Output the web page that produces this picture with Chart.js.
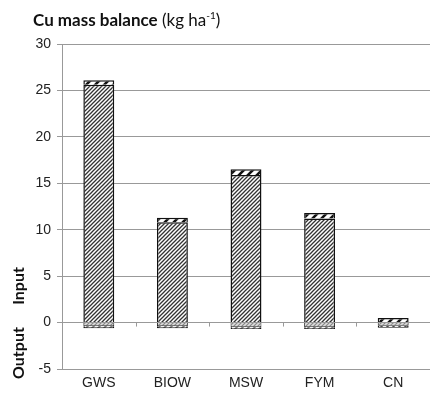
<!DOCTYPE html>
<html>
<head>
<meta charset="utf-8">
<script src="https://cdn.jsdelivr.net/npm/chart.js@4"></script>
<style>
  html, body { margin: 0; padding: 0; background: #fff; }
  #wrap { position: relative; width: 430px; height: 404px; }
  #title { position: absolute; left: 33px; top: 9px; font-family: Lato, sans-serif; font-size: 17px; color: #111; white-space: nowrap; }
  #title b { font-weight: bold; }
  #title sup { font-size: 10px; }
  .side { position: absolute; font-family: Lato, sans-serif; font-weight: bold; font-size: 16px; line-height: 18px; height: 18px; color: #111; transform: rotate(-90deg); transform-origin: center; white-space: nowrap; text-align: center; }
</style>
</head>
<body>
<div id="wrap">
  <canvas id="myChart" width="430" height="404"></canvas>
  <div id="title"><b>Cu mass balance</b> (kg ha<sup>-1</sup>)</div>
  <div class="side" style="left:-7px; top:277px; width:50px;">Input</div>
  <div class="side" style="left:-7px; top:345px; width:50px;">Output</div>
</div>
<script>
var categories = ['GWS', 'BIOW', 'MSW', 'FYM', 'CN'];
var inputMain = [25.6, 10.8, 15.9, 11.2, 0];
var inputOther = [0.5, 0.5, 0.6, 0.6, 0.5];
var outputMain = [-0.4, -0.4, -0.5, -0.5, -0.35];
var outputOther = [-0.2, -0.2, -0.2, -0.2, -0.2];
var yTicks = [-5, 0, 5, 10, 15, 20, 25, 30];

var ctx = document.getElementById('myChart').getContext('2d');

// diagonal hatch fill
function hatch(size, color, lw, bg) {
    var c = document.createElement('canvas');
    c.width = size; c.height = size;
    var x = c.getContext('2d');
    x.fillStyle = bg;
    x.fillRect(0, 0, size, size);
    x.strokeStyle = color;
    x.lineWidth = lw;
    x.beginPath();
    x.moveTo(0, size); x.lineTo(size, 0);
    x.moveTo(-1, 1); x.lineTo(1, -1);
    x.moveTo(size - 1, size + 1); x.lineTo(size + 1, size - 1);
    x.stroke();
    return ctx.createPattern(c, 'repeat');
}

var denseHatch = hatch(4, '#333', 1.3, '#fff');
var wideHatch = hatch(9, '#111', 2.6, '#fff');
var lightHatch = hatch(4, '#888', 1.2, '#ddd');
var dashHatch = hatch(6, '#222', 1.6, '#fff');

// short ticks on the zero line between categories
var zeroTicks = {
    id: 'zeroTicks',
    afterDatasetsDraw: function(chart) {
        var c = chart.ctx, xs = chart.scales.x, ys = chart.scales.y;
        var y0 = ys.getPixelForValue(0);
        c.save();
        c.strokeStyle = '#999';
        c.lineWidth = 1;
        c.beginPath();
        for (var i = 0; i < categories.length - 1; i++) {
            var px = Math.round(xs.getPixelForValue(i + 0.5)) + 0.5;
            c.moveTo(px, y0);
            c.lineTo(px, y0 + 4);
        }
        c.stroke();
        c.restore();
    }
};

var chart = new Chart(ctx, {
    type: 'bar',
    data: {
        labels: categories,
        datasets: [
            { label: 'Input main', data: inputMain, backgroundColor: denseHatch, borderColor: '#111', borderWidth: 1.5 },
            { label: 'Input other', data: inputOther, backgroundColor: wideHatch, borderColor: '#111', borderWidth: 1.5 },
            { label: 'Output main', data: outputMain, backgroundColor: lightHatch, borderColor: '#222', borderWidth: 1 },
            { label: 'Output other', data: outputOther, backgroundColor: dashHatch, borderColor: '#111', borderWidth: 1.5 }
        ]
    },
    options: {
        responsive: false,
        animation: false,
        layout: { padding: { top: 44, right: 0, left: 0, bottom: 0 } },
        categoryPercentage: 1,
        barPercentage: 0.42,
        plugins: { legend: { display: false }, tooltip: { enabled: false } },
        scales: {
            x: {
                stacked: true,
                afterFit: function(s) { s.height = 35; },
                grid: { display: false, drawTicks: false },
                border: { display: false },
                ticks: { color: '#222', font: { family: 'Liberation Sans', size: 14 }, padding: 6 }
            },
            y: {
                stacked: true,
                min: -5,
                max: 30,
                afterFit: function(s) { s.width = 62; },
                afterBuildTicks: function(s) { s.ticks = yTicks.map(function(v) { return { value: v }; }); },
                grid: { color: '#999', tickLength: 5 },
                border: { color: '#999' },
                ticks: { color: '#222', font: { family: 'Liberation Sans', size: 14 }, padding: 6 }
            }
        }
    },
    plugins: [zeroTicks]
});
</script>
</body>
</html>
